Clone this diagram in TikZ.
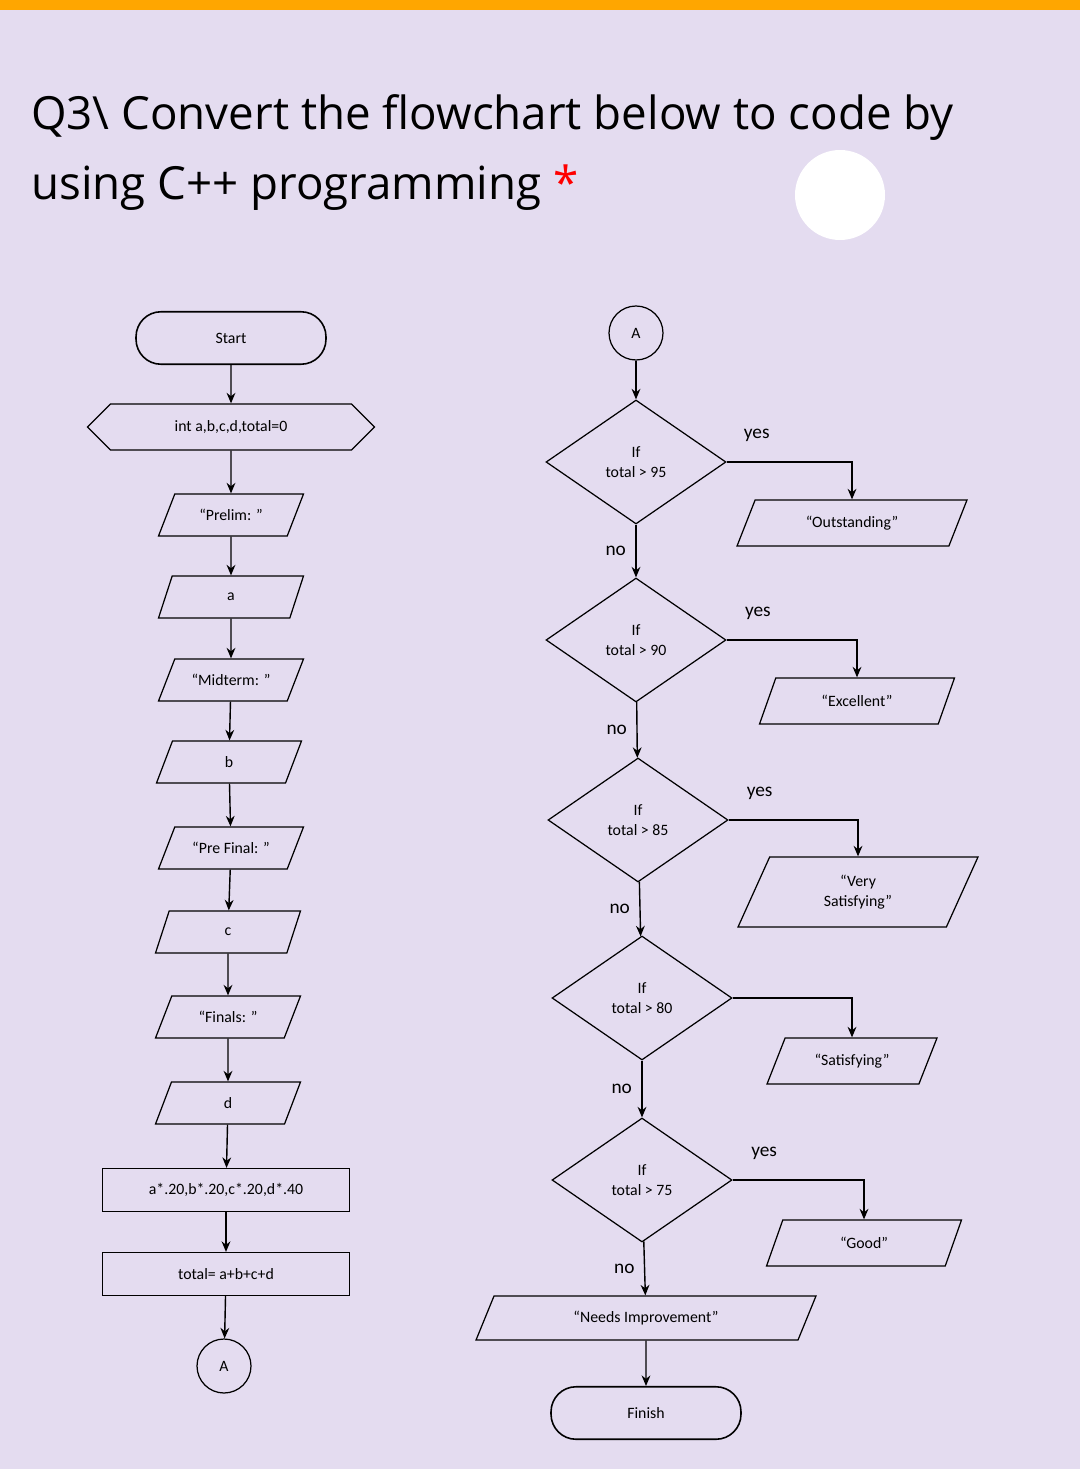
\documentclass[tikz,border=0pt]{standalone}
\usepackage{fontspec}
\setmainfont{Carlito}
\newfontfamily\titlefont{Open Sans}
\usetikzlibrary{shapes.geometric,shapes.symbols,positioning,arrows.meta}
\definecolor{screenbg}{HTML}{E4DCF0}
\begin{document}
\begin{tikzpicture}
[x=0.02cm,y=-0.02cm,>={Stealth[length=6pt,width=5pt]},font=\fontsize{9}{11}\selectfont,
term/.style={draw,rounded corners=0.5cm,minimum width=3.8cm,minimum height=1.05cm,line width=0.9pt},
io/.style={draw,trapezium,trapezium left angle=55,trapezium right angle=125,trapezium stretches body=true,minimum width=2.9cm,minimum height=0.84cm,line width=0.7pt},
proc/.style={draw,minimum width=4.94cm,minimum height=0.86cm,line width=0.7pt},
dec/.style={draw,diamond,minimum width=3.6cm,minimum height=2.48cm,inner sep=0pt,align=center,line width=0.7pt},
conn/.style={draw,circle,minimum size=1.08cm,inner sep=0pt,line width=0.7pt},
flow/.style={->,line width=0.8pt},
lbl/.style={font=\fontsize{11}{13}\selectfont},]

%Background
\fill[screenbg] (0,0) rectangle (1080,1469);
\fill[orange!70!yellow] (0,0) rectangle (1080,10);
\fill[white] (840,195) circle (45);

%Title
\node[anchor=west,font=\titlefont\fontsize{26}{30}\selectfont] (title1) at (25,118) {Q3\textbackslash{} Convert the flowchart below to code by};
\node[anchor=west,font=\titlefont\fontsize{26}{30}\selectfont] (title2) at (25,188) {using C++ programming \textcolor{red}{*}};

%Left column
\node[term] (start) at (231,338) {Start};
\node[draw,signal,signal to=west and east,minimum width=5.74cm,minimum height=0.92cm,line width=0.7pt] (init) at (231,427) {int a,b,c,d,total=0};
\node[io] (p1) at (231,515) {``Prelim: ''};
\node[io] (in1) at (231,597) {a};
\node[io] (p2) at (231,680) {``Midterm: ''};
\node[io] (in2) at (229,762) {b};
\node[io] (p3) at (231,848) {``Pre Final: ''};
\node[io] (in3) at (228,932) {c};
\node[io] (p4) at (228,1017) {``Finals: ''};
\node[io] (in4) at (228,1103) {d};
\node[proc] (calc) at (226,1190) {a*.20,b*.20,c*.20,d*.40};
\node[proc] (sum) at (226,1274) {total= a+b+c+d};
\node[conn] (outA) at (224,1366) {A};

\draw[flow] (start) -- (init);
\draw[flow] (init) -- (p1);
\draw[flow] (p1) -- (in1);
\draw[flow] (in1) -- (p2);
\draw[flow] (p2) -- (in2);
\draw[flow] (in2) -- (p3);
\draw[flow] (p3) -- (in3);
\draw[flow] (in3) -- (p4);
\draw[flow] (p4) -- (in4);
\draw[flow] (in4) -- (calc);
\draw[flow] (calc) -- (sum);
\draw[flow] (sum) -- (outA);

%Right column
\node[conn] (inA) at (636,333) {A};
\node[dec] (d1) at (636,462) {If\\total > 95};
\node[dec] (d2) at (636,640) {If\\total > 90};
\node[dec] (d3) at (638,820) {If\\total > 85};
\node[dec] (d4) at (642,998) {If\\total > 80};
\node[dec] (d5) at (642,1180) {If\\total > 75};
\node[io,minimum width=6.8cm,minimum height=0.88cm] (needs) at (646,1318) {``Needs Improvement''};
\node[term] (finish) at (646,1413) {Finish};

\node[io,minimum width=4.6cm,minimum height=0.92cm] (o1) at (852,523) {``Outstanding''};
\node[io,minimum width=3.9cm,minimum height=0.92cm] (o2) at (857,701) {``Excellent''};
\node[io,minimum width=4.8cm,minimum height=1.4cm,align=center] (o3) at (858,892) {``Very\\Satisfying''};
\node[io,minimum width=3.4cm,minimum height=0.92cm] (o4) at (852,1061) {``Satisfying''};
\node[io,minimum width=3.9cm,minimum height=0.92cm] (o5) at (864,1243) {``Good''};

\draw[flow] (inA) -- (d1);
\draw[flow] (d1) -- node[lbl,left=2pt] {no} (d2);
\draw[flow] (d2) -- node[lbl,left=2pt] {no} (d3);
\draw[flow] (d3) -- node[lbl,left=2pt] {no} (d4);
\draw[flow] (d4) -- node[lbl,left=2pt] {no} (d5);
\draw[flow] (d5) -- node[lbl,left=2pt] {no} (needs);
\draw[flow] (needs) -- (finish);

\draw[flow] (d1.east) -| node[lbl,pos=0.12,above=8pt] {yes} (o1.north);
\draw[flow] (d2.east) -| node[lbl,pos=0.12,above=8pt] {yes} (o2.north);
\draw[flow] (d3.east) -| node[lbl,pos=0.12,above=8pt] {yes} (o3.north);
\draw[flow] (d4.east) -| (o4.north);
\draw[flow] (d5.east) -| node[lbl,pos=0.12,above=8pt] {yes} (o5.north);
\end{tikzpicture}
\end{document}
